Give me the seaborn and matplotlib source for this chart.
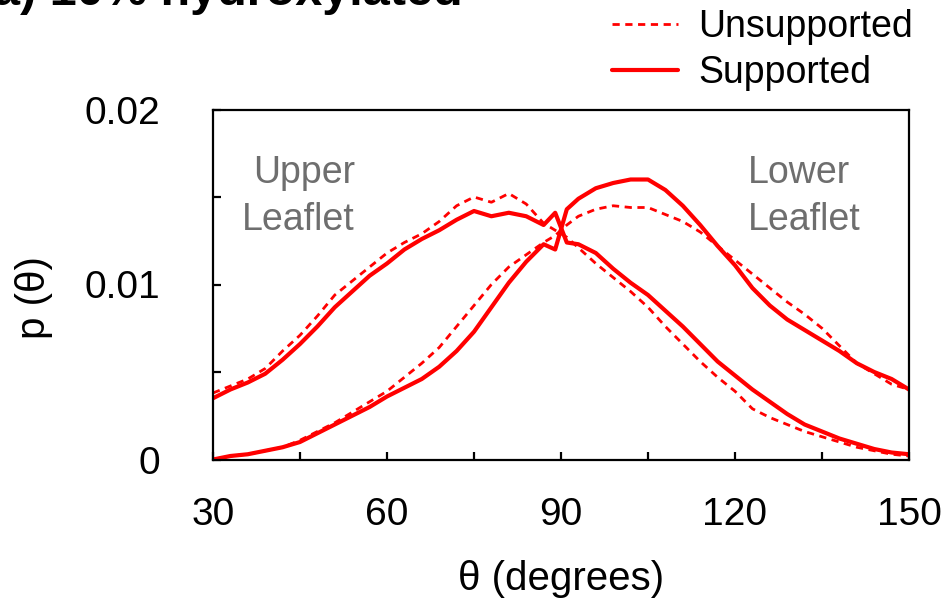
import matplotlib
matplotlib.use("Agg")
import matplotlib.pyplot as plt
from matplotlib.lines import Line2D
from matplotlib.ticker import FixedLocator
import seaborn as sns
import pandas as pd

# ---------------- data ----------------
theta = [30, 33, 36, 39, 42, 45, 48, 51, 54, 57, 60, 63, 66, 69, 72, 75, 78, 81, 84, 87,
         89, 91, 93, 96, 99, 102, 105, 108, 111, 114, 117, 120, 123, 126, 129, 132, 135,
         138, 141, 144, 147, 150]

upper_supported = [0.0035, 0.0040, 0.0044, 0.0049, 0.0057, 0.0066, 0.0076, 0.0087, 0.0096,
                   0.0105, 0.0112, 0.0120, 0.0126, 0.0131, 0.0137, 0.0142, 0.0139, 0.0141,
                   0.0139, 0.0134, 0.0141, 0.0124, 0.0123, 0.0118, 0.0109, 0.0101, 0.0094,
                   0.0085, 0.0076, 0.0066, 0.0056, 0.0048, 0.0040, 0.0033, 0.0026, 0.0020,
                   0.0016, 0.0012, 0.0009, 0.0006, 0.0004, 0.0003]

upper_unsupported = [0.0038, 0.0042, 0.0046, 0.0052, 0.0062, 0.0071, 0.0082, 0.0094, 0.0102,
                     0.0110, 0.0118, 0.0124, 0.0129, 0.0136, 0.0145, 0.0150, 0.0147, 0.0152,
                     0.0146, 0.0135, 0.0131, 0.0127, 0.0121, 0.0112, 0.0104, 0.0096, 0.0087,
                     0.0076, 0.0066, 0.0056, 0.0047, 0.0039, 0.0029, 0.0024, 0.0020, 0.0016,
                     0.0013, 0.0010, 0.0007, 0.0005, 0.0003, 0.0002]

lower_supported = [0.0000, 0.0002, 0.0003, 0.0005, 0.0007, 0.0010, 0.0015, 0.0020, 0.0025,
                   0.0030, 0.0036, 0.0041, 0.0046, 0.0053, 0.0062, 0.0073, 0.0087, 0.0101,
                   0.0113, 0.0123, 0.0120, 0.0143, 0.0149, 0.0155, 0.0158, 0.0160, 0.0160,
                   0.0154, 0.0145, 0.0134, 0.0122, 0.0111, 0.0098, 0.0088, 0.0080, 0.0074,
                   0.0068, 0.0062, 0.0055, 0.0050, 0.0046, 0.0040]

lower_unsupported = [0.0000, 0.0002, 0.0003, 0.0005, 0.0007, 0.0011, 0.0016, 0.0021, 0.0027,
                     0.0033, 0.0039, 0.0047, 0.0055, 0.0064, 0.0076, 0.0088, 0.0100, 0.0110,
                     0.0117, 0.0124, 0.0128, 0.0134, 0.0139, 0.0143, 0.0145, 0.0144, 0.0144,
                     0.0140, 0.0136, 0.0130, 0.0122, 0.0114, 0.0106, 0.0098, 0.0090, 0.0083,
                     0.0075, 0.0065, 0.0055, 0.0049, 0.0043, 0.0040]

series_labels = ["Unsupported", "Supported"]
x_ticks = [30, 60, 90, 120, 150]
x_minor = [45, 75, 105, 135]
y_ticks = [0, 0.01, 0.02]
y_tick_labels = ["0", "0.01", "0.02"]
y_minor = [0.005, 0.015]

title_text = "a) 10% hydroxylated"
xlabel_text = "θ (degrees)"
ylabel_text = "p (θ)"

# ---------------- build long table ----------------
frames = []
for leaflet, support, vals in [("Upper", "Supported", upper_supported),
                               ("Upper", "Unsupported", upper_unsupported),
                               ("Lower", "Supported", lower_supported),
                               ("Lower", "Unsupported", lower_unsupported)]:
    frames.append(pd.DataFrame({"theta": theta, "p": vals,
                                "leaflet": leaflet, "support": support}))
df = pd.concat(frames, ignore_index=True)

# ---------------- style ----------------
sns.set_style("ticks")
plt.rcParams["font.family"] = ["Liberation Sans", "DejaVu Sans"]
plt.rcParams["text.color"] = "black"
plt.rcParams["axes.labelcolor"] = "black"
plt.rcParams["xtick.color"] = "black"
plt.rcParams["ytick.color"] = "black"

RED = "#ff0000"
W, H = 945, 602
fig = plt.figure(figsize=(W / 100, H / 100), dpi=100)
ax = fig.add_axes([213 / W, 1 - 459.5 / H, (909 - 213) / W, 350 / H])

sns.lineplot(data=df[df.support == "Unsupported"], x="theta", y="p", units="leaflet",
             estimator=None, color=RED, lw=2.0, ax=ax, legend=False)
for ln in ax.get_lines():
    ln.set_dashes((2.6, 2.0))
sns.lineplot(data=df[df.support == "Supported"], x="theta", y="p", units="leaflet",
             estimator=None, color=RED, lw=3.0, ax=ax, legend=False)

ax.set_xlim(30, 150)
ax.set_ylim(0, 0.02)
ax.set_xticks(x_ticks)
ax.set_xticklabels([str(t) for t in x_ticks])
ax.xaxis.set_minor_locator(FixedLocator(x_minor))
ax.set_yticks(y_ticks)
ax.set_yticklabels(y_tick_labels)
ax.yaxis.set_minor_locator(FixedLocator(y_minor))

for sp in ax.spines.values():
    sp.set_visible(True)
    sp.set_linewidth(1.6)
    sp.set_color("black")

ax.tick_params(axis="both", which="both", direction="in", length=6, width=1.6,
               color="black", labelcolor="black", top=False, right=False)
ax.tick_params(axis="x", which="major", labelsize=28, pad=27)
ax.tick_params(axis="y", which="major", labelsize=28, pad=38)

ax.set_xlabel(xlabel_text, fontsize=29, color="black")
ax.set_ylabel(ylabel_text, fontsize=29, color="black")
ax.xaxis.set_label_coords(0.5, -0.287)
ax.yaxis.set_label_coords(-0.230, 0.464)

# leaflet annotations
ax.text(54.5, 0.01503, "Upper\nLeaflet", ha="right", va="center", fontsize=27,
        color="#6e6e6e", linespacing=1.36)
ax.text(122.2, 0.01503, "Lower\nLeaflet", ha="left", va="center", fontsize=27,
        color="#6e6e6e", linespacing=1.36)

# title (partly cut off at top, as in reference)
fig.text(-7 / W, 1 - 5 / H, title_text, fontsize=35, fontweight="bold",
         ha="left", va="baseline", color="black")

# legend
handles = [Line2D([], [], color=RED, lw=2.0, dashes=(2.6, 2.0)),
           Line2D([], [], color=RED, lw=3.0)]
leg = fig.legend(handles, series_labels, loc="center left",
                 bbox_to_anchor=(612 / W, 1 - 50 / H), frameon=False, fontsize=27,
                 handlelength=1.75, handletextpad=0.55, labelspacing=0.28,
                 borderpad=0, borderaxespad=0)
for t in leg.get_texts():
    t.set_color("black")

fig.savefig("out.png", dpi=100)
